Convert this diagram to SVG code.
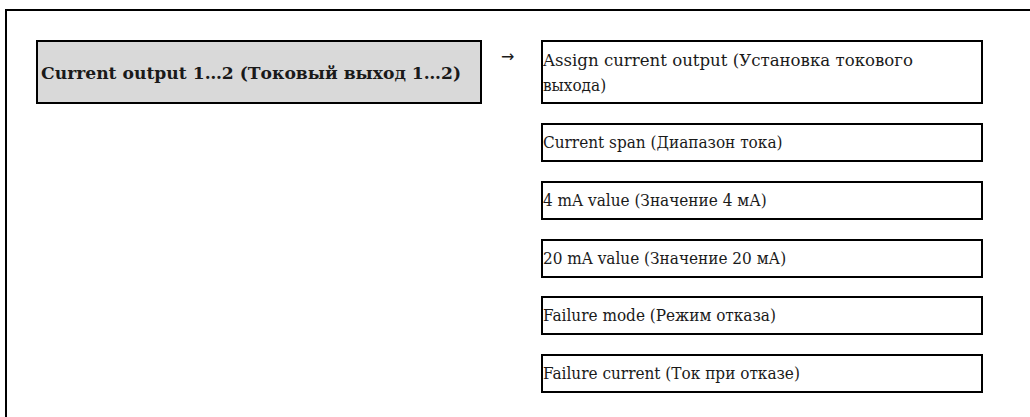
<svg xmlns="http://www.w3.org/2000/svg" width="1030" height="417" viewBox="0 0 1030 417">
<style>
.frame{fill:none;stroke:#000;stroke-width:2}
.main{fill:#d9d9d9;stroke:#000;stroke-width:2}
.box{fill:#fff;stroke:#000;stroke-width:2}
.t{font-family:"DejaVu Serif Condensed","DejaVu Serif","Liberation Serif",serif;font-size:17px;fill:#1a1a1a}
.tb{font-family:"DejaVu Serif Condensed","DejaVu Serif","Liberation Serif",serif;font-size:17px;font-weight:bold;fill:#1a1a1a}
.ar{font-family:"DejaVu Sans",sans-serif;font-size:16px;fill:#1a1a1a}
</style>
<rect width="1030" height="417" fill="#fff"/>
<path class="frame" d="M6,420 V10 H1040"/>
<g id="main">
<rect class="main" x="37" y="41" width="444" height="62"/>
<text class="tb" x="41" y="79" textLength="420" lengthAdjust="spacingAndGlyphs">Current output 1…2 (Токовый выход 1…2)</text>
</g>
<g id="connectors">
<text class="ar" x="501" y="62">→</text>
</g>
<g id="n1">
<rect class="box" x="542" y="41" width="440" height="62"/>
<text class="t" x="543" y="66" textLength="370" lengthAdjust="spacingAndGlyphs">Assign current output (Установка токового</text>
<text class="t" x="543" y="91">выхода)</text>
</g>
<g id="n2">
<rect class="box" x="542" y="124" width="440" height="37"/>
<text class="t" x="543" y="148">Current span (Диапазон тока)</text>
</g>
<g id="n3">
<rect class="box" x="542" y="182" width="440" height="37"/>
<text class="t" x="543" y="206">4 mA value (Значение 4 мА)</text>
</g>
<g id="n4">
<rect class="box" x="542" y="240" width="440" height="37"/>
<text class="t" x="543" y="264">20 mA value (Значение 20 мА)</text>
</g>
<g id="n5">
<rect class="box" x="542" y="297" width="440" height="37"/>
<text class="t" x="543" y="321">Failure mode (Режим отказа)</text>
</g>
<g id="n6">
<rect class="box" x="542" y="355" width="440" height="37"/>
<text class="t" x="543" y="379">Failure current (Ток при отказе)</text>
</g>
</svg>
